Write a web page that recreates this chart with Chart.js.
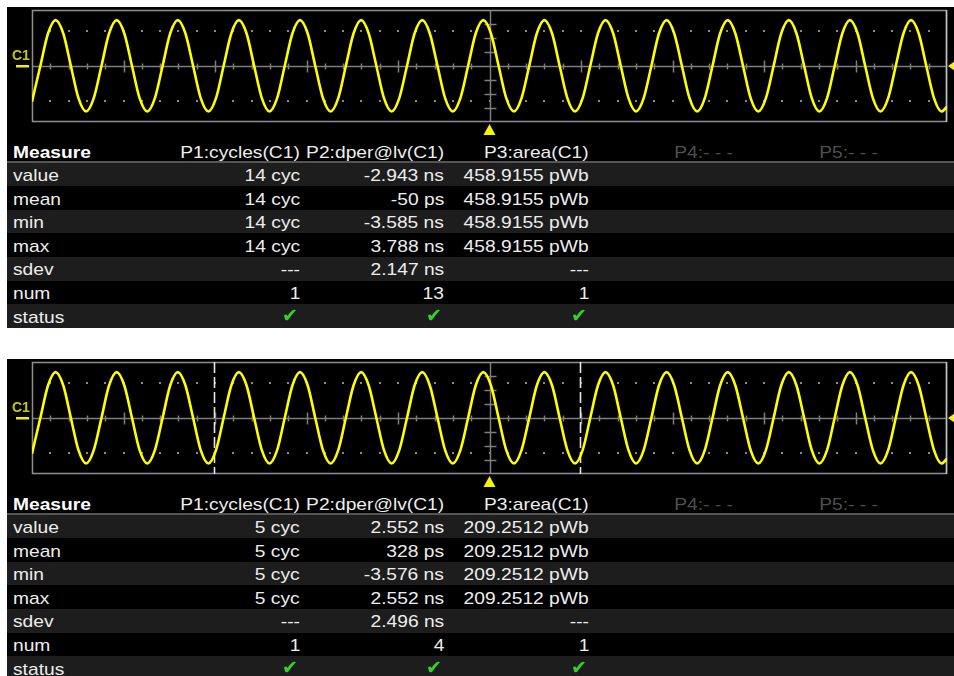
<!DOCTYPE html>
<html><head><meta charset="utf-8">
<script src="https://cdn.jsdelivr.net/npm/chart.js@4.4.1/dist/chart.umd.min.js"></script>
<style>
html,body{margin:0;padding:0;background:#fff;width:954px;height:676px;overflow:hidden;}
.panel{position:absolute;left:7px;width:947px;background:#000;overflow:hidden;font-family:"Liberation Sans",Arial,sans-serif;font-size:17px;color:#ededed;}
.panel canvas{position:absolute;left:0;top:0;}
.row{position:absolute;left:0;width:947px;height:23.6px;}
.row.alt{background:#1d1d1d;}
.sep{position:absolute;left:0;width:947px;height:2px;background:#555;}
.cell{position:absolute;white-space:nowrap;line-height:19px;transform:scaleX(1.13);transform-origin:100% 50%;}
.cell.label{transform-origin:0 50%;}
.cell.bold{font-weight:bold;color:#fff;}
.cell.dim{color:#4f4f4f;}
.cell.check{font-family:"DejaVu Sans",sans-serif;font-size:19px;color:#2fd42f;transform:none;}
</style>
</head><body>
<div class="panel" id="panelTop" style="top:7px;height:321px;"><canvas id="scopeTop" width="947" height="132"></canvas></div>
<div class="panel" id="panelBottom" style="top:359px;height:317px;"><canvas id="scopeBottom" width="947" height="132"></canvas></div>
<script>
// ---- waveform (x in horizontal divisions, y in vertical divisions) ----
const waveTime = [
  0.000, 0.091, 0.175,
  0.258, 0.342, 0.425, 0.508, 0.592, 0.675, 0.759, 0.842,
  0.926, 1.009, 1.093, 1.176, 1.260, 1.343, 1.427, 1.510,
  1.594, 1.677, 1.761, 1.844, 1.928, 2.011, 2.094, 2.178,
  2.261, 2.345, 2.428, 2.512, 2.595, 2.679, 2.762, 2.846,
  2.929, 3.013, 3.096, 3.180, 3.263, 3.347, 3.430, 3.514,
  3.597, 3.680, 3.764, 3.847, 3.931, 4.014, 4.098, 4.181,
  4.265, 4.348, 4.432, 4.515, 4.599, 4.682, 4.766, 4.849,
  4.933, 5.016, 5.100, 5.183, 5.267, 5.350, 5.434, 5.517,
  5.600, 5.684, 5.767, 5.851, 5.934, 6.018, 6.101, 6.185,
  6.268, 6.352, 6.435, 6.519, 6.602, 6.685, 6.769, 6.852,
  6.936, 7.019, 7.103, 7.186, 7.270, 7.353, 7.437, 7.520,
  7.604, 7.687, 7.771, 7.854, 7.938, 8.021, 8.105, 8.188,
  8.272, 8.355, 8.439, 8.522, 8.605, 8.689, 8.772, 8.856,
  8.939, 9.023, 9.106, 9.190, 9.273, 9.357, 9.440, 9.524,
  9.607, 9.691, 9.774, 9.858, 9.941, 10.000
];
const waveLevel = [
  -2.55, 0.00, 2.32,
  3.28, 2.32, 0.00, -2.30, -3.25, -2.30, 0.00, 2.32,
  3.28, 2.32, 0.00, -2.30, -3.25, -2.30, 0.00, 2.32,
  3.28, 2.32, 0.00, -2.30, -3.25, -2.30, 0.00, 2.32,
  3.28, 2.32, 0.00, -2.30, -3.25, -2.30, 0.00, 2.32,
  3.28, 2.32, 0.00, -2.30, -3.25, -2.30, 0.00, 2.32,
  3.28, 2.32, 0.00, -2.30, -3.25, -2.30, 0.00, 2.32,
  3.28, 2.32, 0.00, -2.30, -3.25, -2.30, 0.00, 2.32,
  3.28, 2.32, 0.00, -2.30, -3.25, -2.30, 0.00, 2.32,
  3.28, 2.32, 0.00, -2.30, -3.25, -2.30, 0.00, 2.32,
  3.28, 2.32, 0.00, -2.30, -3.25, -2.30, 0.00, 2.32,
  3.28, 2.32, 0.00, -2.30, -3.25, -2.30, 0.00, 2.32,
  3.28, 2.32, 0.00, -2.30, -3.25, -2.30, 0.00, 2.32,
  3.28, 2.32, 0.00, -2.30, -3.25, -2.30, 0.00, 2.32,
  3.28, 2.32, 0.00, -2.30, -3.25, -2.30, 0.00, 2.32,
  3.28, 2.32, 0.00, -2.30, -3.25, -2.90
];
const bottomCursors = [1.99, 5.99];
const channelLabel = 'C1';

// ---- measurement tables ----
const measureTitle = 'Measure';
const rowLabels = ['value', 'mean', 'min', 'max', 'sdev', 'num', 'status'];
const paramHeaders = ['P1:cycles(C1)', 'P2:dper@lv(C1)', 'P3:area(C1)', 'P4:- - -', 'P5:- - -'];
const topP1 = ['14 cyc', '14 cyc', '14 cyc', '14 cyc', '---', '1', 'ok'];
const topP2 = ['-2.943 ns', '-50 ps', '-3.585 ns', '3.788 ns', '2.147 ns', '13', 'ok'];
const topP3 = ['458.9155 pWb', '458.9155 pWb', '458.9155 pWb', '458.9155 pWb', '---', '1', 'ok'];
const bottomP1 = ['5 cyc', '5 cyc', '5 cyc', '5 cyc', '---', '1', 'ok'];
const bottomP2 = ['2.552 ns', '328 ps', '-3.576 ns', '2.552 ns', '2.496 ns', '4', 'ok'];
const bottomP3 = ['209.2512 pWb', '209.2512 pWb', '209.2512 pWb', '209.2512 pWb', '---', '1', 'ok'];

// ---- layout ----
const COL_RIGHT = [293, 437, 582, 726, 871];
const HEADER_TOP = 136, SEP_TOP = 153.7, ROW_TOP = 155.7, ROW_H = 23.6;

function buildTable(panel, cols) {
  const add = (parent, cls, text, style) => {
    const d = document.createElement('div');
    d.className = cls; d.textContent = text;
    Object.assign(d.style, style || {});
    parent.appendChild(d); return d;
  };
  add(panel, 'cell label bold', measureTitle, {left: '6px', top: HEADER_TOP + 'px'});
  paramHeaders.forEach((h, i) => {
    add(panel, 'cell' + (i >= cols.length ? ' dim' : ''), h, {right: (947 - COL_RIGHT[i]) + 'px', top: HEADER_TOP + 'px'});
  });
  add(panel, 'sep', '', {top: SEP_TOP + 'px'});
  rowLabels.forEach((lab, r) => {
    const row = add(panel, 'row' + (r % 2 === 0 ? ' alt' : ''), '', {top: (ROW_TOP + r * ROW_H) + 'px'});
    add(row, 'cell label', lab, {left: '6px', top: '3.4px'});
    cols.forEach((col, c) => {
      const v = col[r];
      if (v === 'ok') add(row, 'cell check', '\u2714', {right: (947 - COL_RIGHT[c] + 2) + 'px', top: '2px'});
      else add(row, 'cell', v, {right: (947 - COL_RIGHT[c]) + 'px', top: '3.4px'});
    });
  });
}
buildTable(document.getElementById('panelTop'), [topP1, topP2, topP3]);
buildTable(document.getElementById('panelBottom'), [bottomP1, bottomP2, bottomP3]);

// ---- scope graticule plugin ----
function scopePlugin(cursors) {
  return {
    id: 'scope',
    beforeDatasetsDraw(chart) {
      const {ctx, chartArea: a, scales: {x, y}} = chart;
      ctx.save();
      ctx.fillStyle = '#8a8a8a';
      for (let i = 1; i < 50; i++) {
        const px = Math.round(x.getPixelForValue(i * 0.2));
        [2.5, -2.5].forEach(v => ctx.fillRect(px - 1, Math.round(y.getPixelForValue(v)) - 1, 2, 2));
      }
      const cy = Math.round(y.getPixelForValue(0)) + 0.5, cx = Math.round(x.getPixelForValue(5)) + 0.5;
      ctx.strokeStyle = '#7d7d7d'; ctx.lineWidth = 1.5;
      ctx.beginPath();
      ctx.moveTo(a.left, cy); ctx.lineTo(a.right, cy);
      ctx.moveTo(cx, a.top); ctx.lineTo(cx, a.bottom);
      for (let i = 1; i < 50; i++) {
        const px = Math.round(x.getPixelForValue(i * 0.2)) + 0.5;
        const len = i % 5 === 0 ? 6 : 3;
        ctx.moveTo(px, cy - len); ctx.lineTo(px, cy + len);
      }
      for (let v = -3; v <= 3; v++) {
        if (!v) continue;
        const py = Math.round(y.getPixelForValue(v)) + 0.5;
        ctx.moveTo(cx - 6, py); ctx.lineTo(cx + 6, py);
      }
      ctx.stroke();
      ctx.strokeStyle = '#8e8e8e'; ctx.lineWidth = 1.5;
      ctx.strokeRect(a.left + 0.5, a.top + 0.5, a.right - a.left - 1, a.bottom - a.top - 1);
      ctx.strokeStyle = '#bdbdbd';
      ctx.beginPath(); ctx.moveTo(a.right - 0.5, a.top); ctx.lineTo(a.right - 0.5, a.bottom); ctx.stroke();
      if (cursors) {
        ctx.strokeStyle = '#e6e6e6'; ctx.lineWidth = 1.6; ctx.setLineDash([11, 4]);
        cursors.forEach(t => {
          const px = Math.round(x.getPixelForValue(t)) + 0.5;
          ctx.beginPath(); ctx.moveTo(px, a.top); ctx.lineTo(px, a.bottom); ctx.stroke();
        });
      }
      ctx.restore();
    },
    afterDraw(chart) {
      const {ctx, chartArea: a, scales: {x, y}} = chart;
      const cy = y.getPixelForValue(0), cx = x.getPixelForValue(5);
      ctx.save();
      ctx.fillStyle = '#f2f200';
      ctx.fillRect(a.left - 16, cy - 1, 13, 2.5);
      ctx.font = 'bold 14px "Liberation Sans", Arial, sans-serif';
      ctx.fillStyle = '#c6c60c';
      ctx.textBaseline = 'alphabetic';
      ctx.fillText(channelLabel, a.left - 20, cy - 6);
      ctx.fillStyle = '#f5f500';
      ctx.beginPath(); ctx.moveTo(cx, a.bottom + 2); ctx.lineTo(cx - 6, a.bottom + 13); ctx.lineTo(cx + 6, a.bottom + 13); ctx.closePath(); ctx.fill();
      ctx.beginPath(); ctx.moveTo(a.right + 1, cy); ctx.lineTo(a.right + 8, cy - 5); ctx.lineTo(a.right + 8, cy + 5); ctx.closePath(); ctx.fill();
      ctx.restore();
    }
  };
}

function makeScope(id, cursors) {
  new Chart(document.getElementById(id), {
    type: 'line',
    data: {
      datasets: [{
        data: waveTime.map((t, i) => ({x: t, y: waveLevel[i]})),
        borderColor: '#ffff00',
        borderWidth: 2.6,
        pointRadius: 0,
        cubicInterpolationMode: 'monotone',
        fill: false
      }]
    },
    options: {
      responsive: false,
      animation: false,
      devicePixelRatio: 1,
      layout: {padding: {left: 25, right: 7, top: 3, bottom: 17}},
      scales: {
        x: {type: 'linear', min: 0, max: 10, display: false},
        y: {type: 'linear', min: -4, max: 4, display: false}
      },
      plugins: {legend: {display: false}, tooltip: {enabled: false}}
    },
    plugins: [scopePlugin(cursors)]
  });
}
makeScope('scopeTop', null);
makeScope('scopeBottom', bottomCursors);
</script>
</body></html>
